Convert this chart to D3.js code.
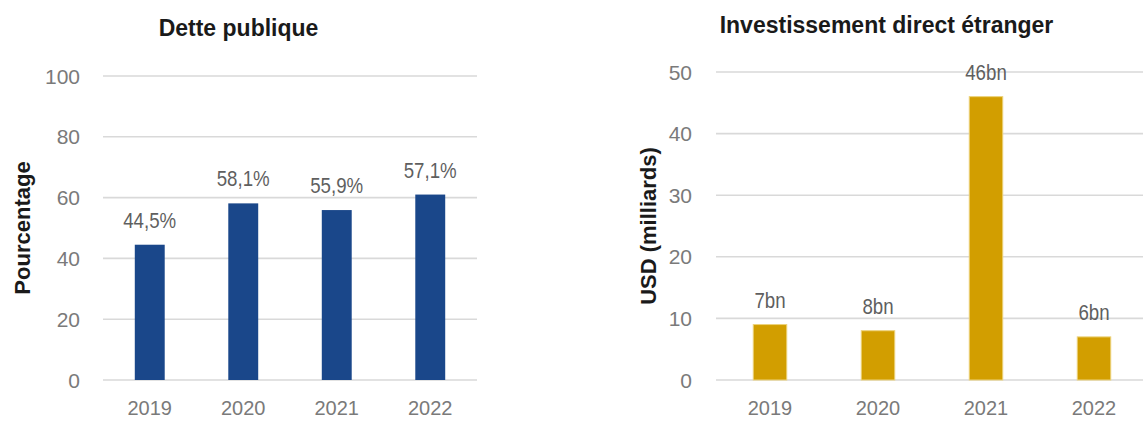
<!DOCTYPE html>
<html>
<head>
<meta charset="utf-8">
<script src="https://cdn.jsdelivr.net/npm/d3@7"></script>
<style>
  html, body { margin: 0; padding: 0; background: #ffffff; }
  svg { display: block; }
  .tick-label { font-family: "Liberation Sans", Arial, sans-serif; font-size: 21px; fill: #7a7a7a; }
  .x-label { font-family: "Liberation Sans", Arial, sans-serif; font-size: 20px; fill: #7a7a7a; }
  .data-label { font-family: "Liberation Sans", Arial, sans-serif; font-size: 22px; fill: #5f5f5f; }
  .title { font-family: "Liberation Sans", Arial, sans-serif; font-weight: bold; font-size: 23px; fill: #1a1a1a; }
  .axis-title { font-family: "Liberation Sans", Arial, sans-serif; font-weight: bold; font-size: 22px; fill: #1a1a1a; }
</style>
</head>
<body>
<svg id="chart" width="1143" height="421"></svg>
<script>
// ---- Data ----
const years = ["2019", "2020", "2021", "2022"];

// Dette publique (bar heights as drawn, % of GDP)
const detteValues = [44.5, 58.1, 55.9, 61.0];
const detteLabels = ["44,5%", "58,1%", "55,9%", "57,1%"];
const detteTicks = [0, 20, 40, 60, 80, 100];

// Investissement direct étranger (bar heights as drawn, USD billions)
const ideValues = [9, 8, 46, 7];
const ideLabels = ["7bn", "8bn", "46bn", "6bn"];
const ideTicks = [0, 10, 20, 30, 40, 50];

const titles = ["Dette publique", "Investissement direct étranger"];
const axisTitles = ["Pourcentage", "USD (milliards)"];

// ---- Drawing ----
const svg = d3.select("#chart");

function drawPanel(cfg) {
  const g = svg.append("g");
  const x = d3.scaleBand().domain(years).range(cfg.xRange).paddingInner(cfg.pad).paddingOuter(cfg.pad / 2);
  const y = d3.scaleLinear().domain([0, d3.max(cfg.ticks)]).range(cfg.yRange);

  // gridlines
  g.selectAll("line.grid").data(cfg.ticks).enter().append("line")
    .attr("x1", cfg.gridX[0]).attr("x2", cfg.gridX[1])
    .attr("y1", d => y(d)).attr("y2", d => y(d))
    .attr("stroke", "#d9d9d9").attr("stroke-width", 1.6);

  // y tick labels
  g.selectAll("text.ytick").data(cfg.ticks).enter().append("text")
    .attr("class", "tick-label")
    .attr("x", cfg.tickX).attr("y", d => y(d)).attr("dy", "0.36em")
    .attr("text-anchor", "end").text(d => d);

  // bars
  g.selectAll("rect.bar").data(cfg.values).enter().append("rect")
    .attr("x", (d, i) => x(years[i])).attr("width", x.bandwidth())
    .attr("y", d => y(d)).attr("height", d => y(0) - y(d))
    .attr("fill", cfg.color)
    .attr("stroke", cfg.stroke || "none").attr("stroke-width", cfg.stroke ? 1 : 0);

  // data labels (slightly condensed, like the reference)
  g.selectAll("text.dl").data(cfg.labels).enter().append("text")
    .attr("class", "data-label")
    .attr("x", (d, i) => x(years[i]) + x.bandwidth() / 2)
    .attr("y", (d, i) => y(cfg.values[i]) - 17)
    .attr("text-anchor", "middle").text(d => d)
    .each(function () {
      const w = this.getComputedTextLength();
      d3.select(this).attr("textLength", w * 0.85).attr("lengthAdjust", "spacingAndGlyphs");
    });

  // x labels
  g.selectAll("text.xl").data(years).enter().append("text")
    .attr("class", "x-label")
    .attr("x", d => x(d) + x.bandwidth() / 2).attr("y", 415)
    .attr("text-anchor", "middle").text(d => d);

  // title
  g.append("text").attr("class", "title")
    .attr("x", cfg.titleX).attr("y", cfg.titleY)
    .attr("text-anchor", "middle").text(cfg.title);

  // axis title
  g.append("text").attr("class", "axis-title")
    .attr("transform", `translate(${cfg.axisTitleX},${cfg.axisTitleY}) rotate(-90)`)
    .attr("text-anchor", "middle").attr("dy", "0.36em").text(cfg.axisTitle);
}

drawPanel({
  xRange: [103, 477], yRange: [380, 76], gridX: [103, 477], pad: 0.68,
  ticks: detteTicks, values: detteValues, labels: detteLabels,
  color: "#1a478a", tickX: 80,
  title: titles[0], titleX: 238.5, titleY: 36,
  axisTitle: axisTitles[0], axisTitleX: 22, axisTitleY: 228
});

drawPanel({
  xRange: [716, 1148], yRange: [380, 72], gridX: [716, 1143], pad: 0.69,
  ticks: ideTicks, values: ideValues, labels: ideLabels,
  color: "#d29e00", stroke: "#ecd27a", tickX: 692,
  title: titles[1], titleX: 886.5, titleY: 33,
  axisTitle: axisTitles[1], axisTitleX: 648, axisTitleY: 226
});
</script>
</body>
</html>
